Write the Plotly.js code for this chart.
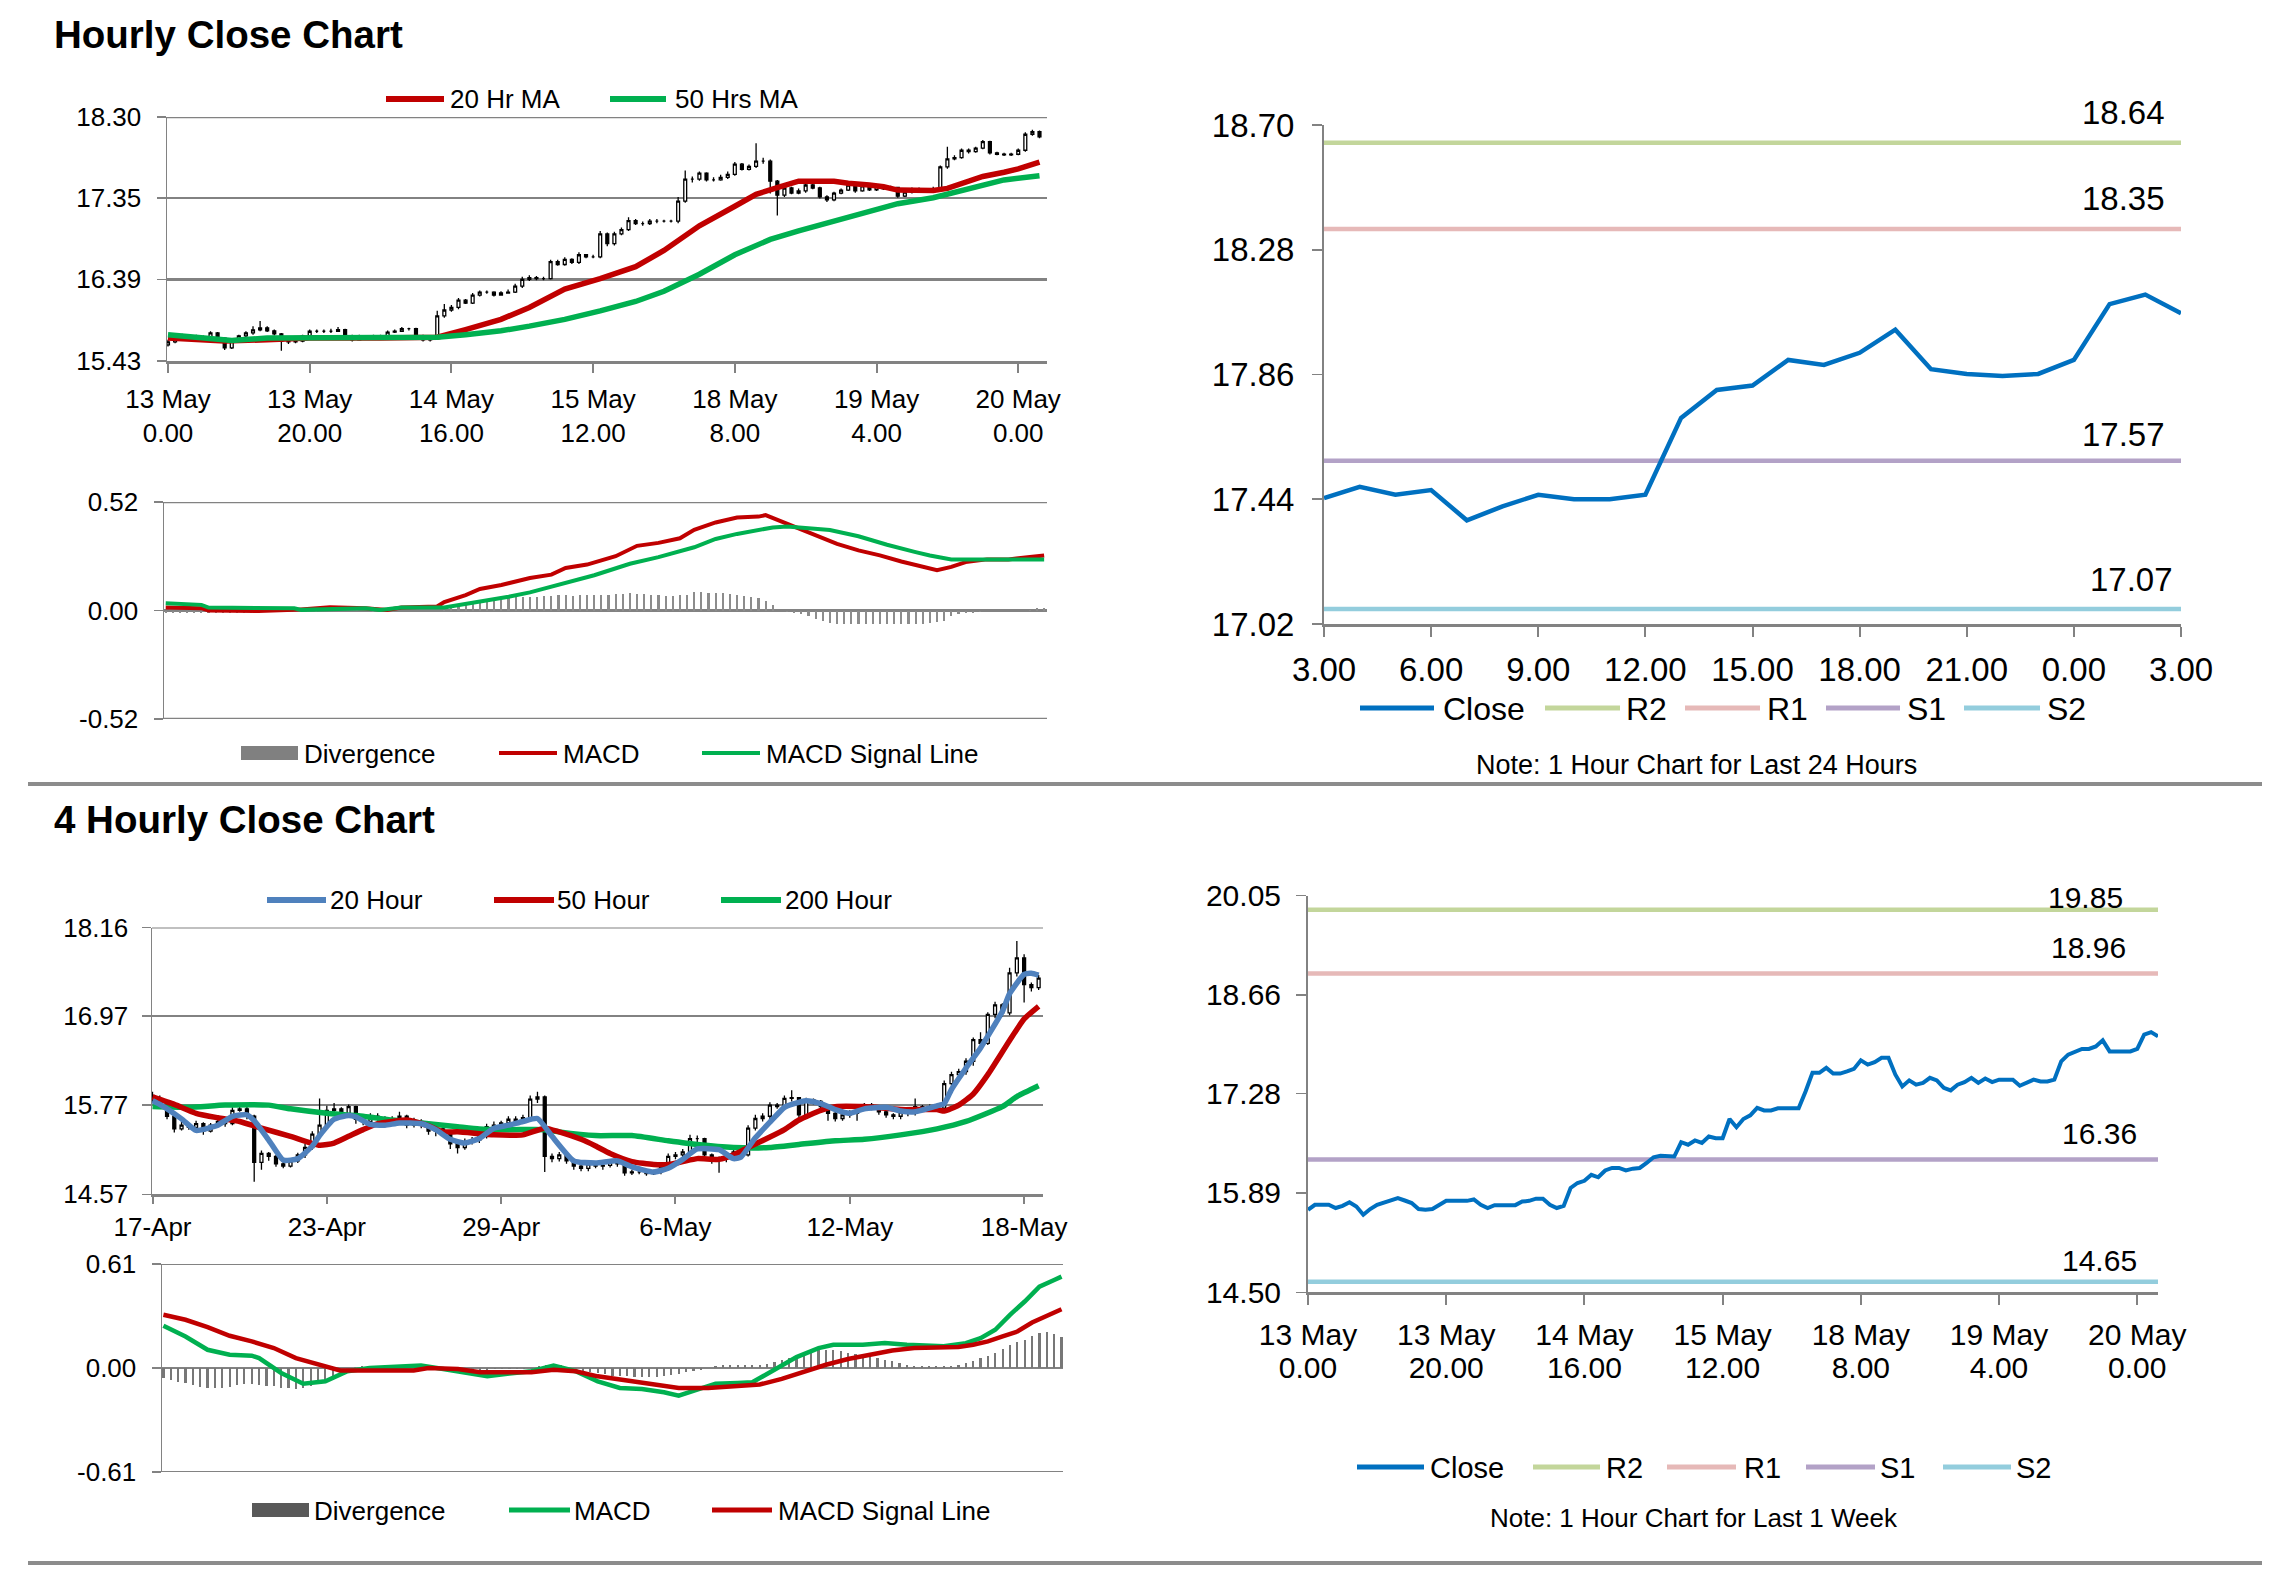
<!DOCTYPE html>
<html>
<head>
<meta charset="utf-8">
<script src="https://cdn.plot.ly/plotly-3.0.1.min.js"></script>
<style>
html,body{margin:0;padding:0;background:#fff;}
#chart{width:2281px;height:1570px;}
</style>
</head>
<body>
<div id="chart"></div>
<script>
// ---------------- DATA ----------------
// Hourly chart (1 hour candles, 13 May 0.00 -> 20 May 3.00)
const hourTickDays  = ['13 May','13 May','14 May','15 May','18 May','19 May','20 May'];
const hourTickHours = ['0.00','20.00','16.00','12.00','8.00','4.00','0.00'];
const hourPriceTicks = ['15.43','16.39','17.35','18.30'];
const hourMacdTicks  = ['-0.52','0.00','0.52'];
const hourOpen = [
15.62,15.655,15.725,15.725,15.725,15.68,15.71,15.76,15.70,15.585,
15.665,15.725,15.76,15.795,15.82,15.785,15.75,15.665,15.655,15.665,
15.725,15.78,15.78,15.78,15.78,15.80,15.725,15.68,15.72,15.72,
15.72,15.72,15.77,15.78,15.81,15.81,15.725,15.68,15.71,15.96,
16.03,16.06,16.145,16.11,16.205,16.24,16.24,16.205,16.23,16.24,
16.31,16.39,16.41,16.40,16.40,16.60,16.565,16.625,16.59,16.68,
16.655,16.655,16.925,16.81,16.925,16.975,17.08,17.045,17.045,17.075,
17.075,17.075,17.075,17.31,17.57,17.57,17.64,17.56,17.56,17.59,
17.625,17.745,17.685,17.72,17.78,17.78,17.545,17.38,17.465,17.405,
17.43,17.50,17.465,17.36,17.325,17.405,17.44,17.50,17.43,17.49,
17.444,17.482,17.455,17.471,17.369,17.416,17.455,17.44,17.44,17.455,
17.714,17.808,17.823,17.909,17.892,17.933,18.011,17.878,17.862,17.855,
17.862,17.909,18.097,18.129];
const hourHigh = [
15.68,15.74,15.75,15.74,15.74,15.73,15.78,15.77,15.71,15.68,
15.74,15.78,15.84,15.90,15.84,15.80,15.76,15.68,15.68,15.74,
15.80,15.80,15.80,15.81,15.83,15.81,15.74,15.74,15.73,15.74,
15.74,15.79,15.80,15.83,15.82,15.82,15.74,15.72,16.02,16.10,
16.09,16.17,16.16,16.23,16.26,16.26,16.25,16.25,16.27,16.34,
16.42,16.44,16.43,16.42,16.62,16.62,16.65,16.64,16.71,16.69,
16.68,16.96,16.94,16.95,17.00,17.12,17.10,17.07,17.10,17.10,
17.09,17.09,17.36,17.67,17.60,17.66,17.65,17.59,17.62,17.66,
17.77,17.76,17.74,17.99,17.82,17.80,17.56,17.50,17.48,17.46,
17.53,17.52,17.48,17.38,17.42,17.46,17.53,17.51,17.51,17.50,
17.50,17.49,17.49,17.48,17.43,17.47,17.47,17.46,17.48,17.73,
17.95,17.85,17.93,17.93,17.95,18.03,18.02,17.89,17.88,17.88,
17.93,18.12,18.15,18.14];
const hourLow = [
15.60,15.64,15.70,15.70,15.66,15.66,15.70,15.69,15.56,15.57,
15.65,15.71,15.74,15.78,15.77,15.73,15.55,15.63,15.64,15.65,
15.71,15.76,15.76,15.76,15.77,15.71,15.66,15.67,15.70,15.70,
15.70,15.71,15.76,15.77,15.79,15.71,15.66,15.66,15.70,15.94,
16.01,16.04,16.10,16.10,16.19,16.22,16.19,16.20,16.22,16.23,
16.29,16.37,16.38,16.38,16.39,16.55,16.55,16.57,16.57,16.64,
16.64,16.64,16.78,16.79,16.91,16.96,17.03,17.02,17.03,17.05,
17.06,17.06,17.05,17.29,17.53,17.55,17.54,17.54,17.55,17.57,
17.61,17.67,17.67,17.70,17.75,17.40,17.14,17.36,17.39,17.39,
17.41,17.45,17.34,17.30,17.31,17.39,17.43,17.41,17.42,17.43,
17.43,17.44,17.44,17.35,17.36,17.40,17.42,17.42,17.42,17.44,
17.69,17.79,17.81,17.87,17.88,17.92,17.86,17.85,17.84,17.84,
17.85,17.89,18.08,18.05];
const hourClose = [
15.655,15.725,15.725,15.725,15.68,15.71,15.76,15.70,15.585,15.665,
15.725,15.76,15.795,15.82,15.785,15.75,15.665,15.655,15.665,15.725,
15.78,15.78,15.78,15.78,15.80,15.725,15.68,15.72,15.72,15.72,
15.72,15.77,15.78,15.81,15.81,15.725,15.68,15.71,15.96,16.03,
16.06,16.145,16.11,16.205,16.24,16.24,16.205,16.23,16.24,16.31,
16.39,16.41,16.40,16.40,16.60,16.565,16.625,16.59,16.68,16.655,
16.655,16.925,16.81,16.925,16.975,17.08,17.045,17.045,17.075,17.075,
17.075,17.075,17.31,17.57,17.57,17.64,17.56,17.56,17.59,17.625,
17.745,17.685,17.72,17.78,17.78,17.545,17.38,17.465,17.405,17.43,
17.50,17.465,17.36,17.325,17.405,17.44,17.50,17.43,17.49,17.444,
17.482,17.455,17.471,17.369,17.416,17.455,17.44,17.44,17.455,17.714,
17.808,17.823,17.909,17.892,17.933,18.011,17.878,17.862,17.855,17.862,
17.909,18.097,18.129,18.066];
const ma20HrIdx = [0,8,14,20,30,38,42,47,51,56,61,66,70,75,80,83,86,89,94,96,99,101,103,106,108,110,113,115,118,120,123];
const ma20Hr    = [15.70,15.665,15.68,15.70,15.70,15.71,15.80,15.92,16.06,16.275,16.40,16.54,16.73,17.02,17.25,17.39,17.47,17.545,17.545,17.52,17.50,17.48,17.44,17.43,17.435,17.46,17.55,17.60,17.65,17.69,17.77];
const ma50HrIdx = [0,5,9,14,20,30,38,42,47,51,56,61,66,70,75,80,85,89,94,99,103,108,113,118,123];
const ma50Hr    = [15.74,15.71,15.67,15.70,15.70,15.70,15.71,15.74,15.785,15.84,15.92,16.02,16.13,16.25,16.45,16.68,16.86,16.96,17.08,17.19,17.28,17.35,17.46,17.56,17.61];

// Hourly MACD
const hourMacdIdx = [0,5,6,13,18,23,28,31,33,38,39,42,44,47,51,54,56,59,63,66,69,72,74,77,80,83,84,86,89,92,94,97,100,103,106,108,110,112,115,118,121,123];
const hourMacd    = [0.014,0.011,0.0,-0.002,0.003,0.016,0.011,0.003,0.014,0.019,0.04,0.074,0.103,0.122,0.156,0.172,0.204,0.22,0.26,0.31,0.324,0.346,0.387,0.422,0.446,0.45,0.457,0.43,0.39,0.35,0.319,0.288,0.264,0.235,0.209,0.193,0.209,0.232,0.245,0.245,0.256,0.264];
const hourSignalIdx = [0,5,6,13,18,19,28,30,33,39,42,45,48,51,56,60,65,69,74,77,80,85,87,90,93,97,101,105,107,110,115,123];
const hourSignal    = [0.035,0.027,0.014,0.014,0.011,0.003,0.011,0.003,0.014,0.014,0.03,0.046,0.066,0.087,0.134,0.169,0.224,0.256,0.303,0.343,0.367,0.398,0.403,0.395,0.386,0.356,0.315,0.28,0.264,0.245,0.245,0.245];
const hourDivergence = [
-0.01,-0.01,-0.01,-0.01,-0.01,-0.01,-0.01,-0.01,-0.01,-0.01,
-0.01,-0.01,-0.01,-0.01,0,0,-0.008,-0.008,-0.008,-0.008,
-0.008,-0.005,0,0,0,0,0,0,0,-0.006,
-0.006,-0.006,0,0,0,0,0,0,-0.004,0.002,
0.011,0.02,0.027,0.035,0.043,0.05,0.055,0.058,0.062,0.064,
0.066,0.066,0.066,0.068,0.07,0.074,0.072,0.07,0.074,0.072,
0.074,0.074,0.076,0.078,0.08,0.082,0.08,0.078,0.076,0.072,
0.068,0.07,0.072,0.076,0.09,0.088,0.086,0.084,0.082,0.077,
0.074,0.07,0.066,0.06,0.046,0.027,0,-0.005,-0.013,-0.018,
-0.024,-0.04,-0.052,-0.058,-0.065,-0.065,-0.065,-0.065,-0.065,-0.065,
-0.065,-0.065,-0.065,-0.065,-0.065,-0.065,-0.065,-0.06,-0.055,-0.05,
-0.024,-0.016,-0.013,-0.01,-0.008,0,0,0,0,0,
0,0.004,0.014,0.012];

// Last 24 hours close (top right)
const last24Labels = ['3.00','6.00','9.00','12.00','15.00','18.00','21.00','0.00','3.00'];
const last24Ticks  = ['17.02','17.44','17.86','18.28','18.70'];
const last24Close = [17.444,17.482,17.455,17.471,17.369,17.416,17.455,17.44,17.44,17.455,17.714,17.808,17.823,17.909,17.892,17.933,18.011,17.878,17.862,17.855,17.862,17.909,18.097,18.129,18.066];
const levelNames = ['R2','R1','S1','S2'];
const levels24 = [18.64,18.35,17.57,17.07];

// 4 hourly chart
const fourTickLabels = ['17-Apr','23-Apr','29-Apr','6-May','12-May','18-May'];
const fourPriceTicks = ['14.57','15.77','16.97','18.16'];
const fourMacdTicks  = ['-0.61','0.00','0.61'];
const fourOpen = [
15.90,15.85,15.80,15.62,15.45,15.50,15.47,15.52,15.42,15.50,
15.55,15.52,15.70,15.72,15.62,15.00,15.12,15.08,14.98,14.95,
15.02,15.10,15.20,15.38,15.50,15.70,15.72,15.65,15.75,15.58,
15.55,15.62,15.60,15.55,15.58,15.62,15.50,15.55,15.50,15.42,
15.45,15.40,15.25,15.20,15.28,15.30,15.35,15.48,15.50,15.53,
15.58,15.55,15.60,15.85,15.88,15.08,15.05,15.10,15.02,14.95,
14.92,14.98,14.95,14.96,15.00,14.98,14.86,14.87,14.87,14.85,
14.87,14.94,15.08,15.10,15.14,15.32,15.32,15.10,15.05,15.05,
15.05,15.14,15.10,15.46,15.59,15.62,15.77,15.75,15.86,15.87,
15.64,15.84,15.82,15.75,15.66,15.59,15.64,15.66,15.75,15.77,
15.75,15.68,15.64,15.62,15.68,15.66,15.75,15.74,15.75,15.73,
16.06,16.18,16.22,16.36,16.65,16.60,16.99,17.12,17.01,17.55,
17.75,17.39,17.35];
const fourHigh = [
15.95,15.90,15.82,15.65,15.55,15.53,15.56,15.54,15.53,15.60,
15.58,15.74,15.79,15.75,15.64,15.16,15.14,15.10,15.02,15.06,
15.13,15.25,15.42,15.86,15.76,15.80,15.74,15.78,15.76,15.60,
15.66,15.66,15.62,15.62,15.68,15.64,15.60,15.58,15.52,15.48,
15.48,15.42,15.30,15.32,15.34,15.40,15.52,15.55,15.56,15.62,
15.62,15.64,15.90,15.95,15.90,15.12,15.14,15.12,15.05,14.98,
15.02,15.00,14.99,15.04,15.03,15.00,14.90,14.92,14.90,14.90,
14.97,15.12,15.14,15.18,15.37,15.36,15.33,15.12,15.08,15.09,
15.18,15.16,15.50,15.64,15.66,15.81,15.80,15.90,15.97,15.88,
15.87,15.86,15.84,15.77,15.68,15.67,15.70,15.78,15.80,15.80,
15.77,15.70,15.66,15.72,15.70,15.86,15.77,15.78,15.77,16.10,
16.22,16.26,16.40,16.68,16.75,17.02,17.16,17.14,17.62,17.98,
17.80,17.42,17.52];
const fourLow = [
15.80,15.72,15.58,15.40,15.43,15.44,15.45,15.37,15.40,15.48,
15.48,15.50,15.68,15.58,14.74,14.90,15.02,14.94,14.92,14.93,
14.99,15.06,15.17,15.33,15.46,15.66,15.62,15.62,15.52,15.50,
15.52,15.56,15.50,15.52,15.55,15.46,15.47,15.46,15.37,15.35,
15.36,15.18,15.12,15.17,15.24,15.26,15.32,15.45,15.47,15.50,
15.50,15.52,15.57,15.80,14.87,15.00,15.01,14.98,14.90,14.88,
14.88,14.92,14.90,14.93,14.94,14.82,14.83,14.84,14.82,14.83,
14.84,14.91,15.04,15.06,15.10,15.26,15.06,14.98,14.86,15.00,
15.02,15.06,15.08,15.43,15.55,15.58,15.72,15.72,15.82,15.56,
15.60,15.78,15.70,15.56,15.55,15.56,15.60,15.56,15.72,15.70,
15.64,15.60,15.58,15.58,15.62,15.63,15.70,15.70,15.70,15.70,
16.02,16.14,16.18,16.30,16.55,16.58,16.94,16.96,16.98,17.50,
17.15,17.30,17.32];
const fourClose = [
15.85,15.80,15.62,15.45,15.50,15.47,15.52,15.42,15.50,15.55,
15.52,15.70,15.72,15.62,15.00,15.12,15.08,14.98,14.95,15.02,
15.10,15.20,15.38,15.50,15.70,15.72,15.65,15.75,15.58,15.55,
15.62,15.60,15.55,15.58,15.62,15.50,15.55,15.50,15.42,15.45,
15.40,15.25,15.20,15.28,15.30,15.35,15.48,15.50,15.53,15.58,
15.55,15.60,15.85,15.88,15.08,15.05,15.10,15.02,14.95,14.92,
14.98,14.95,14.96,15.00,14.98,14.86,14.87,14.87,14.85,14.87,
14.94,15.08,15.10,15.14,15.32,15.32,15.10,15.05,15.05,15.05,
15.14,15.10,15.46,15.59,15.62,15.77,15.75,15.86,15.87,15.64,
15.84,15.82,15.75,15.66,15.59,15.64,15.66,15.75,15.77,15.75,
15.68,15.64,15.62,15.68,15.66,15.75,15.74,15.75,15.73,16.06,
16.18,16.22,16.36,16.65,16.60,16.99,17.12,17.01,17.55,17.75,
17.39,17.35,17.48];
const ma20HourIdx = [0,1,4,6,8,9,11,13,14,16,18,20,22,23,25,27,28,30,32,34,37,39,41,43,45,47,49,51,53,55,58,61,64,66,69,71,73,75,78,80,81,83,85,87,88,90,92,94,96,98,101,103,105,108,109,110,112,114,117,118,120,121,122];
const ma20Hour    = [15.83,15.78,15.585,15.43,15.47,15.50,15.62,15.64,15.56,15.30,15.03,15.05,15.22,15.36,15.58,15.63,15.61,15.51,15.50,15.53,15.52,15.44,15.31,15.26,15.32,15.46,15.50,15.55,15.59,15.35,15.02,14.99,15.02,14.94,14.87,14.92,15.04,15.18,15.17,15.05,15.07,15.33,15.54,15.74,15.78,15.83,15.79,15.71,15.66,15.72,15.74,15.69,15.68,15.76,15.79,15.98,16.27,16.54,17.03,17.27,17.53,17.545,17.52];
const ma50HourIdx = [0,3,6,9,12,15,19,23,25,27,29,31,33,35,38,40,42,47,51,54,56,59,61,63,66,69,71,73,75,78,80,82,85,87,89,92,94,98,103,108,109,111,113,115,118,120,122];
const ma50Hour    = [15.88,15.78,15.66,15.60,15.55,15.46,15.35,15.23,15.26,15.35,15.44,15.52,15.55,15.57,15.49,15.41,15.41,15.37,15.37,15.46,15.41,15.31,15.22,15.12,15.01,14.97,14.97,15.01,15.05,15.04,15.10,15.20,15.34,15.44,15.57,15.70,15.75,15.75,15.71,15.71,15.69,15.77,15.92,16.18,16.64,16.93,17.10];
const ma200HourIdx = [0,5,10,16,19,24,28,33,38,42,45,49,54,56,61,66,71,75,80,85,89,94,98,103,108,112,117,119,122];
const ma200Hour    = [15.75,15.74,15.77,15.77,15.72,15.66,15.63,15.57,15.52,15.48,15.45,15.44,15.44,15.41,15.36,15.36,15.29,15.24,15.20,15.20,15.24,15.29,15.31,15.37,15.45,15.55,15.75,15.885,16.03];

// 4 hourly MACD
const fourMacdIdx = [0,3,6,9,12,13,16,19,22,25,28,32,35,38,41,44,47,50,53,56,59,62,65,68,70,72,75,78,80,83,86,89,91,95,98,101,104,106,109,111,113,115,117,119,121,122];
const fourMacd    = [0.248,0.185,0.107,0.078,0.072,0.058,-0.029,-0.092,-0.078,-0.019,0,0.006,0.014,-0.006,-0.029,-0.049,-0.033,-0.019,0.014,-0.019,-0.078,-0.117,-0.123,-0.142,-0.162,-0.136,-0.092,-0.088,-0.084,-0.01,0.064,0.117,0.136,0.136,0.146,0.136,0.127,0.127,0.146,0.175,0.224,0.312,0.39,0.477,0.516,0.536];
const fourSignalIdx = [0,3,6,9,12,15,18,21,24,27,30,34,36,40,43,47,50,53,56,59,62,65,68,70,74,78,81,84,87,90,93,96,99,102,105,108,110,112,114,116,118,120,122];
const fourSignal    = [0.312,0.283,0.24,0.189,0.156,0.117,0.058,0.019,-0.014,-0.014,-0.014,-0.014,0,-0.006,-0.025,-0.025,-0.025,-0.01,-0.019,-0.049,-0.068,-0.084,-0.107,-0.117,-0.117,-0.107,-0.097,-0.064,-0.019,0.019,0.053,0.078,0.103,0.117,0.117,0.123,0.136,0.156,0.185,0.214,0.267,0.306,0.345];
const fourDivergence = [
-0.058,-0.07,-0.08,-0.088,-0.1,-0.111,-0.115,-0.117,-0.117,-0.11,
-0.097,-0.095,-0.095,-0.1,-0.105,-0.107,-0.115,-0.12,-0.123,-0.115,
-0.105,-0.09,-0.068,-0.045,-0.019,-0.005,0.006,0.01,0.014,0.012,
0.012,0.012,0.01,0.012,0.014,0.008,0,-0.005,-0.01,-0.01,
-0.01,-0.01,-0.01,-0.01,-0.01,-0.008,-0.006,-0.005,-0.005,-0.005,
-0.005,0.01,0.015,0.02,0.015,0.005,-0.01,-0.015,-0.022,-0.029,
-0.035,-0.045,-0.049,-0.049,-0.05,-0.05,-0.052,-0.053,-0.048,-0.039,
-0.035,-0.025,-0.018,-0.01,0,0.01,0.015,0.02,0.018,0.016,
0.018,0.02,0.025,0.033,0.045,0.058,0.072,0.088,0.095,0.103,
0.105,0.103,0.098,0.088,0.083,0.078,0.07,0.058,0.048,0.039,
0.03,0.019,0.014,0.012,0.01,0.01,0.01,0.012,0.02,0.029,
0.04,0.058,0.072,0.088,0.11,0.136,0.15,0.166,0.185,0.205,
0.214,0.2,0.181];

// Last 1 week close (bottom right)
const weekTicks = ['14.50','15.89','17.28','18.66','20.05'];
const weekClose = [
15.655,15.725,15.725,15.725,15.68,15.71,15.76,15.70,15.585,15.665,
15.725,15.76,15.795,15.82,15.785,15.75,15.665,15.655,15.665,15.725,
15.78,15.78,15.78,15.78,15.80,15.725,15.68,15.72,15.72,15.72,
15.72,15.77,15.78,15.81,15.81,15.725,15.68,15.71,15.96,16.03,
16.06,16.145,16.11,16.205,16.24,16.24,16.205,16.23,16.24,16.31,
16.39,16.41,16.40,16.40,16.60,16.565,16.625,16.59,16.68,16.655,
16.655,16.925,16.81,16.925,16.975,17.08,17.045,17.045,17.075,17.075,
17.075,17.075,17.31,17.57,17.57,17.64,17.56,17.56,17.59,17.625,
17.745,17.685,17.72,17.78,17.78,17.545,17.38,17.465,17.405,17.43,
17.50,17.465,17.36,17.325,17.405,17.44,17.50,17.43,17.49,17.44,
17.475,17.475,17.475,17.39,17.43,17.475,17.45,17.45,17.475,17.73,
17.825,17.86,17.905,17.905,17.94,18.025,17.87,17.87,17.87,17.87,
17.905,18.105,18.14,18.08];
const levelsWeek = [19.85,18.96,16.36,14.65];

// ---------------- STYLE / LAYOUT ----------------
const W = 2281, H = 1570;
const FONT = 'Liberation Sans, Arial, Helvetica, sans-serif';
const GRID = '#828282';
const RED = '#C00000', GREEN = '#00B050', BLUE = '#4F81BD', CLOSE = '#0070C0';
const levelColors = ['#C3D69B','#E6B9B8','#B3A2C7','#93CDDD'];
const px = x => x / W;
const py = y => 1 - y / H;
const xd = (a, b) => [a / W, b / W];
const yd = (t, b) => [1 - b / H, 1 - t / H];
const idx = n => Array.from({length: n}, (_, i) => i);
const num = a => a.map(Number);

const traces = [];
// A: hourly candles
const hx = idx(hourClose.length);
traces.push({type:'candlestick', x:hx, open:hourOpen, high:hourHigh, low:hourLow, close:hourClose,
  xaxis:'x', yaxis:'y', whiskerwidth:0, hoverinfo:'skip',
  increasing:{line:{color:'#000', width:1.3}, fillcolor:'#fff'},
  decreasing:{line:{color:'#000', width:1.3}, fillcolor:'#000'}});
traces.push({type:'scatter', mode:'lines', x:ma20HrIdx, y:ma20Hr, xaxis:'x', yaxis:'y', line:{color:RED, width:5.5}});
traces.push({type:'scatter', mode:'lines', x:ma50HrIdx, y:ma50Hr, xaxis:'x', yaxis:'y', line:{color:GREEN, width:5.5}});
// B: hourly MACD
traces.push({type:'bar', x:hx, y:hourDivergence, xaxis:'x2', yaxis:'y2', width:0.3, marker:{color:'#8c8c8c', line:{width:0}}});
traces.push({type:'scatter', mode:'lines', x:hourMacdIdx, y:hourMacd, xaxis:'x2', yaxis:'y2', line:{color:RED, width:4}});
traces.push({type:'scatter', mode:'lines', x:hourSignalIdx, y:hourSignal, xaxis:'x2', yaxis:'y2', line:{color:GREEN, width:4}});
// C: last 24h
const cx = idx(last24Close.length);
levels24.forEach((v, k) => traces.push({type:'scatter', mode:'lines', x:[cx[0], cx[cx.length-1]], y:[v, v], xaxis:'x3', yaxis:'y3', line:{color:levelColors[k], width:4.5}}));
traces.push({type:'scatter', mode:'lines', x:cx, y:last24Close, xaxis:'x3', yaxis:'y3', line:{color:CLOSE, width:4.5}});
// D: 4 hourly candles
const fx = idx(fourClose.length);
traces.push({type:'candlestick', x:fx, open:fourOpen, high:fourHigh, low:fourLow, close:fourClose,
  xaxis:'x4', yaxis:'y4', whiskerwidth:0, hoverinfo:'skip',
  increasing:{line:{color:'#000', width:1.3}, fillcolor:'#fff'},
  decreasing:{line:{color:'#000', width:1.3}, fillcolor:'#000'}});
traces.push({type:'scatter', mode:'lines', x:ma200HourIdx, y:ma200Hour, xaxis:'x4', yaxis:'y4', line:{color:GREEN, width:5.5, shape:'spline', smoothing:0.5}});
traces.push({type:'scatter', mode:'lines', x:ma50HourIdx, y:ma50Hour, xaxis:'x4', yaxis:'y4', line:{color:RED, width:5.5, shape:'spline', smoothing:0.5}});
traces.push({type:'scatter', mode:'lines', x:ma20HourIdx, y:ma20Hour, xaxis:'x4', yaxis:'y4', line:{color:BLUE, width:5.5, shape:'spline', smoothing:0.5}});
// E: 4 hourly MACD
traces.push({type:'bar', x:fx, y:fourDivergence, xaxis:'x5', yaxis:'y5', width:0.3, marker:{color:'#777', line:{width:0}}});
traces.push({type:'scatter', mode:'lines', x:fourMacdIdx, y:fourMacd, xaxis:'x5', yaxis:'y5', line:{color:GREEN, width:4.5}});
traces.push({type:'scatter', mode:'lines', x:fourSignalIdx, y:fourSignal, xaxis:'x5', yaxis:'y5', line:{color:RED, width:4.5}});
// F: last week
const wx = idx(weekClose.length);
levelsWeek.forEach((v, k) => traces.push({type:'scatter', mode:'lines', x:[wx[0], wx[wx.length-1]], y:[v, v], xaxis:'x6', yaxis:'y6', line:{color:levelColors[k], width:4.5}}));
traces.push({type:'scatter', mode:'lines', x:wx, y:weekClose, xaxis:'x6', yaxis:'y6', line:{color:CLOSE, width:4}});
// invisible anchor trace for the second tick-label row of F (hour row)
traces.push({type:'scatter', mode:'markers', x:[wx[0]], y:[weekClose[0]], xaxis:'x7', yaxis:'y6', marker:{opacity:0}, hoverinfo:'skip'});

const tf = s => ({family:FONT, size:s, color:'#000'});
function xAxis(dom, range, anchor, extra) {
  return Object.assign({domain:dom, range:range, anchor:anchor, showgrid:false, zeroline:false,
    showline:true, linecolor:GRID, linewidth:2.5, ticks:'outside', ticklen:9, tickwidth:2, tickcolor:GRID,
    fixedrange:true, rangeslider:{visible:false}}, extra);
}
function yAxis(dom, range, anchor, texts, size, grid, extra) {
  return Object.assign({domain:dom, range:range, anchor:anchor, tickmode:'array', tickvals:num(texts), ticktext:texts,
    showgrid:grid, gridcolor:GRID, gridwidth:2.5, zeroline:false, showline:true, linecolor:GRID, linewidth:1.5,
    ticks:'outside', ticklen:9, tickwidth:1.5, tickcolor:GRID, tickfont:tf(size), fixedrange:true}, extra);
}
const fmt = v => v.toFixed(2);
const hourTickLabels = hourTickDays.map((d, k) => d + '<br>' + hourTickHours[k]);
const tick20 = idx(hourTickDays.length).map(k => k * 20);

const layout = {
  width: W, height: H, margin:{l:0, r:0, t:0, b:0}, paper_bgcolor:'#fff', plot_bgcolor:'rgba(0,0,0,0)',
  showlegend:false, boxgap:0.42, bargap:0, font:{family:FONT, color:'#000'},
  xaxis: xAxis(xd(167,1047), [-0.14,124.06], 'y', {tickmode:'array', tickvals:tick20, ticktext:hourTickLabels, tickfont:tf(26), ticklabelstandoff:4}),
  yaxis: yAxis(yd(117,361), [15.43,18.30], 'x', hourPriceTicks, 26, true, {ticklabelstandoff:10}),
  xaxis2: xAxis(xd(164,1047), [-0.24,123.4], 'y2', {showline:false, ticks:'', showticklabels:false}),
  yaxis2: yAxis(yd(502,719), [-0.52,0.52], 'x2', hourMacdTicks, 26, true, {ticklabelstandoff:10}),
  xaxis3: xAxis(xd(1324,2181), [0,24], 'y3', {tickmode:'array', tickvals:idx(last24Labels.length).map(k=>k*3), ticktext:last24Labels, tickfont:tf(33), ticklen:10, ticklabelstandoff:5}),
  yaxis3: yAxis(yd(125,624), [17.0199,18.7001], 'x3', last24Ticks, 33, false, {ticklen:10, linewidth:2, ticklabelstandoff:11}),
  xaxis4: xAxis(xd(152,1043), [-0.07,122.6], 'y4', {tickmode:'array', tickvals:idx(fourTickLabels.length).map(k=>k*24), ticktext:fourTickLabels, tickfont:tf(26), ticklen:7, ticklabelstandoff:1}),
  yaxis4: yAxis(yd(927.5,1194.3), [14.57,18.16], 'x4', fourPriceTicks, 26, true, {ticklabelstandoff:8, gridwidth:2}),
  xaxis5: xAxis(xd(162,1063), [-0.19,122.2], 'y5', {showline:false, ticks:'', showticklabels:false}),
  yaxis5: yAxis(yd(1264,1472), [-0.61,0.61], 'x5', fourMacdTicks, 26, true, {ticklabelstandoff:10, gridwidth:2}),
  xaxis6: xAxis(xd(1308,2158), [0,123], 'y6', {tickmode:'array', tickvals:tick20, ticktext:hourTickDays, tickfont:tf(30), ticklen:10, ticklabelstandoff:4}),
  // second label row of F, on its own free axis placed 35 px below the first row
  xaxis7: {domain:xd(1308,2158), anchor:'free', position:1 - 1327/H, range:[0,123], tickmode:'array', tickvals:tick20, ticktext:hourTickHours,
           tickfont:tf(30), showline:false, showgrid:false, zeroline:false, ticks:'outside', ticklen:10, tickcolor:'rgba(0,0,0,0)', ticklabelstandoff:4, fixedrange:true},
  yaxis6: yAxis(yd(895.5,1292.4), [14.4999,20.0501], 'x6', weekTicks, 30, false, {ticklen:10, linewidth:2, ticklabelstandoff:9}),
  shapes: [], annotations: []
};

const shapes = layout.shapes, ann = layout.annotations;
// gridlines on the top / bottom edges of the boxed panels
function edgeGrid(xa, ya, v, w) { shapes.push({type:'line', xref:xa + ' domain', yref:ya, x0:0, x1:1, y0:v, y1:v, line:{color:GRID, width:w}}); }
edgeGrid('x', 'y', num(hourPriceTicks)[hourPriceTicks.length-1], 2.5);
edgeGrid('x2', 'y2', num(hourMacdTicks)[hourMacdTicks.length-1], 2.5);
edgeGrid('x2', 'y2', num(hourMacdTicks)[0], 2.5);
edgeGrid('x4', 'y4', num(fourPriceTicks)[fourPriceTicks.length-1], 2);
edgeGrid('x5', 'y5', num(fourMacdTicks)[fourMacdTicks.length-1], 2);
edgeGrid('x5', 'y5', num(fourMacdTicks)[0], 2);

function legLine(x0, x1, y, color, w) { shapes.push({type:'line', xref:'paper', yref:'paper', x0:px(x0), x1:px(x1), y0:py(y), y1:py(y), line:{color:color, width:w}}); }
function legRect(x0, x1, y, h, color) { shapes.push({type:'rect', xref:'paper', yref:'paper', x0:px(x0), x1:px(x1), y0:py(y + h/2), y1:py(y - h/2), fillcolor:color, line:{width:0}}); }
function label(text, x, y, size, anchor, bold) {
  ann.push({xref:'paper', yref:'paper', x:px(x), y:py(y), text: bold ? '<b>' + text + '</b>' : text, showarrow:false,
    xanchor: anchor || 'left', yanchor:'middle', borderpad:0, font:tf(size)});
}

// separators
shapes.push({type:'line', xref:'paper', yref:'paper', x0:px(28), x1:px(2262), y0:py(784), y1:py(784), line:{color:'#8c8c8c', width:4}});
shapes.push({type:'line', xref:'paper', yref:'paper', x0:px(28), x1:px(2262), y0:py(1563), y1:py(1563), line:{color:'#8c8c8c', width:4}});

// titles
label('Hourly Close Chart', 53, 35, 38.5, 'left', true);
label('4 Hourly Close Chart', 53, 819, 38.5, 'left', true);

// legend: hourly price
legLine(386, 444, 99, RED, 6);   label('20 Hr MA', 449, 99, 26);
legLine(610, 666, 99, GREEN, 6); label('50 Hrs MA', 674, 99, 26);
// legend: hourly MACD
legRect(241, 298, 753, 14, '#808080'); label('Divergence', 303, 754, 26);
legLine(499, 557, 753, RED, 4);   label('MACD', 562, 754, 26);
legLine(702, 760, 753, GREEN, 4); label('MACD Signal Line', 765, 754, 26);
// legend: last 24h
legLine(1360, 1434, 708, CLOSE, 5); label('Close', 1442, 709, 32);
const leg24 = [[1545,1620,1625],[1685,1760,1766],[1826,1900,1906],[1964,2040,2046]];
levelNames.forEach((n, k) => { legLine(leg24[k][0], leg24[k][1], 708, levelColors[k], 5); label(n, leg24[k][2], 709, 32); });
label('Note: 1 Hour Chart for Last 24 Hours', 1696, 765, 27, 'center');
// legend: 4 hourly
legLine(267, 326, 900, BLUE, 6);  label('20 Hour', 329, 900, 26);
legLine(494, 554, 900, RED, 6);   label('50 Hour', 556, 900, 26);
legLine(721, 781, 900, GREEN, 6); label('200 Hour', 784, 900, 26);
// legend: 4 hourly MACD
legRect(252, 309, 1510, 14, '#595959'); label('Divergence', 313, 1511, 26);
legLine(509, 570, 1510, GREEN, 5); label('MACD', 573, 1511, 26);
legLine(712, 772, 1510, RED, 5);   label('MACD Signal Line', 777, 1511, 26);
// legend: last week
legLine(1357, 1424, 1467, CLOSE, 5); label('Close', 1429, 1468, 29);
const legW = [[1533,1600,1605],[1667,1736,1743],[1806,1875,1879],[1943,2011,2015]];
levelNames.forEach((n, k) => { legLine(legW[k][0], legW[k][1], 1467, levelColors[k], 5); label(n, legW[k][2], 1468, 29); });
label('Note: 1 Hour Chart for Last 1 Week', 1694, 1518, 26, 'center');

// level value labels
const pos24 = [22.4, 22.4, 22.4, 22.6], shift24 = [11, 11, 7, 10];
levels24.forEach((v, k) => ann.push({xref:'x3', yref:'y3', x:pos24[k], y:v, text:fmt(v), showarrow:false, xanchor:'center', yanchor:'bottom', yshift:shift24[k], borderpad:0, font:tf(33)}));
const posW = [112.5, 113.0, 114.5, 114.5], shiftW = [-5, 8, 8, 4];
levelsWeek.forEach((v, k) => ann.push({xref:'x6', yref:'y6', x:posW[k], y:v, text:fmt(v), showarrow:false, xanchor:'center', yanchor:'bottom', yshift:shiftW[k], borderpad:0, font:tf(30)}));

Plotly.newPlot('chart', traces, layout, {staticPlot:true, displayModeBar:false});
</script>
</body>
</html>
